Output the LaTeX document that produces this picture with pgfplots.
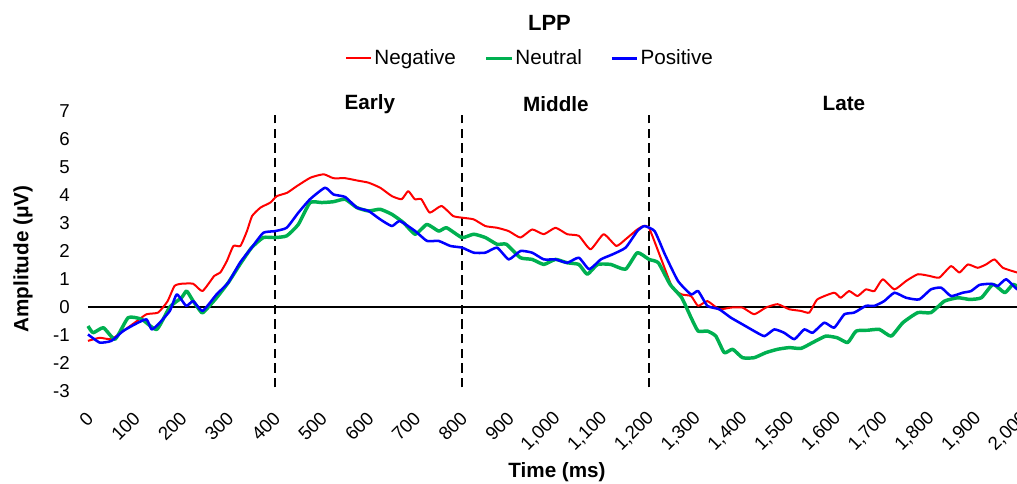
\documentclass[border=0pt]{standalone}
\usepackage{fontspec}
\setmainfont{Liberation Sans}
\usepackage{pgfplots}
\pgfplotsset{compat=1.18}
\usetikzlibrary{calc}
\definecolor{negred}{RGB}{255,0,0}
\definecolor{neugreen}{RGB}{0,176,80}
\definecolor{posblue}{RGB}{0,0,255}
\begin{document}
\begin{tikzpicture}
\begin{axis}[
  scale only axis,
  width=701.25pt, height=210pt,
  xmin=0, xmax=2000, ymin=-3, ymax=7,
  xtick={0,100,...,2000},
  ytick={-3,-2,...,7},
  axis line style={draw=none},
  major tick length=0pt,
  clip=false,
  /pgf/number format/assume math mode=true,
  /pgf/number format/1000 sep={,},
  ticklabel style={font=\fontsize{14}{16}\selectfont},
  yticklabel style={inner sep=0pt, anchor=east, xshift=-13.5pt},
  xticklabel style={yshift=-18pt, xshift=1.5pt, rotate=45, anchor=east, inner sep=0pt},
  xlabel={Time (ms)},
  xlabel style={font=\bfseries\fontsize{15.5}{18}\selectfont, at={(axis description cs:0.5016,-0.289)}, anchor=center},
  ylabel={Amplitude (μV)},
  ylabel style={font=\bfseries\fontsize{15.5}{18}\selectfont, at={(axis description cs:-0.0695,0.472)}, anchor=center},
  legend columns=-1,
  legend style={draw=none, fill=none, at={(axis description cs:0.4727,1.1876)}, anchor=center,
    font=\fontsize{15.5}{18}\selectfont, nodes={inner sep=1.5pt},
    /tikz/every even column/.append style={column sep=20pt}},
  legend image code/.code={\draw[#1] (0pt,0pt) -- (19pt,0pt);},
  line join=round,
]
\addplot[black, line width=1.1pt, forget plot] coordinates {(0,0) (2000,0)};
\addplot[black, line width=2pt, dash pattern=on 7pt off 4pt, forget plot] coordinates {(400,-2.875) (400,6.85)};
\addplot[black, line width=2pt, dash pattern=on 7pt off 4pt, forget plot] coordinates {(800,-2.875) (800,6.85)};
\addplot[black, line width=2pt, dash pattern=on 7pt off 4pt, forget plot] coordinates {(1200,-2.875) (1200,6.85)};

% Negative
\addplot[negred, line width=1.5pt, smooth, tension=0.3] coordinates {
(0,-1.21)(25,-1.10)(50,-1.15)(75,-0.86)(100,-0.56)(125,-0.26)(150,-0.20)(170,0.20)(185,0.75)
(200,0.83)(225,0.83)(245,0.57)(270,1.11)(283,1.23)(297,1.64)(311,2.18)(326,2.18)(340,2.71)
(351,3.25)(369,3.55)(390,3.73)(404,3.96)(426,4.08)(447,4.32)(476,4.62)(504,4.74)(525,4.60)
(550,4.60)(575,4.52)(600,4.44)(625,4.26)(650,3.96)(671,3.85)(685,4.14)(699,3.85)(713,3.85)
(731,3.37)(756,3.61)(781,3.25)(800,3.19)(825,3.13)(850,2.89)(875,2.83)(900,2.71)(925,2.48)
(950,2.77)(975,2.60)(1000,2.83)(1025,2.60)(1050,2.54)(1075,2.06)(1103,2.60)(1130,2.18)
(1150,2.42)(1175,2.77)(1188,2.89)(1200,2.83)(1225,1.76)(1250,0.69)(1270,0.45)(1290,0.39)
(1305,0.04)(1325,0.21)(1350,-0.08)(1375,-0.02)(1400,-0.02)(1425,-0.26)(1450,-0.02)(1475,0.10)
(1500,-0.08)(1525,-0.14)(1543,-0.20)(1560,0.27)(1596,0.51)(1610,0.33)(1628,0.57)(1646,0.39)
(1664,0.63)(1682,0.57)(1700,0.99)(1725,0.63)(1750,0.93)(1775,1.17)(1800,1.11)(1821,1.05)
(1846,1.46)(1864,1.23)(1882,1.52)(1903,1.40)(1921,1.52)(1939,1.70)(1957,1.40)(1988,1.23)(2000,1.20)
};
\addlegendentry{Negative}

% Neutral
\addplot[neugreen, line width=2.6pt, smooth, tension=0.3] coordinates {
(0,-0.68)(11,-0.92)(33,-0.74)(58,-1.15)(86,-0.38)(115,-0.44)(147,-0.80)(175,0.00)(200,0.33)
(211,0.57)(225,0.21)(243,-0.20)(250,-0.14)(275,0.33)(300,0.87)(325,1.52)(350,2.12)(375,2.48)
(400,2.48)(425,2.54)(450,2.95)(475,3.73)(500,3.73)(525,3.76)(550,3.85)(575,3.55)(600,3.43)
(625,3.49)(650,3.31)(675,3.01)(700,2.60)(725,2.95)(750,2.71)(767,2.83)(800,2.48)(825,2.60)
(850,2.48)(875,2.24)(895,2.24)(925,1.76)(950,1.70)(975,1.52)(1000,1.70)(1025,1.58)(1050,1.52)
(1068,1.17)(1090,1.52)(1118,1.52)(1150,1.35)(1175,1.94)(1200,1.70)(1220,1.58)(1245,0.81)
(1270,0.33)(1290,-0.38)(1305,-0.86)(1325,-0.86)(1343,-1.04)(1361,-1.63)(1379,-1.51)(1400,-1.81)
(1425,-1.81)(1450,-1.63)(1475,-1.51)(1500,-1.45)(1525,-1.48)(1550,-1.27)(1578,-1.04)(1603,-1.10)
(1625,-1.27)(1643,-0.86)(1668,-0.83)(1693,-0.80)(1718,-1.04)(1743,-0.56)(1775,-0.20)(1803,-0.20)
(1832,0.21)(1861,0.33)(1886,0.27)(1911,0.33)(1936,0.81)(1961,0.51)(1979,0.81)(2000,0.60)
};
\addlegendentry{Neutral}

% Positive
\addplot[posblue, line width=1.9pt, smooth, tension=0.3] coordinates {
(0,-0.98)(25,-1.27)(50,-1.21)(75,-0.86)(100,-0.62)(125,-0.44)(136,-0.80)(150,-0.62)(175,-0.14)
(190,0.45)(210,0.04)(225,0.21)(245,-0.14)(275,0.45)(300,0.87)(325,1.58)(350,2.12)(375,2.65)
(400,2.71)(425,2.83)(450,3.37)(475,3.85)(507,4.26)(525,4.02)(550,3.93)(575,3.55)(600,3.43)
(625,3.13)(650,2.89)(667,3.07)(700,2.71)(725,2.36)(750,2.36)(775,2.18)(800,2.12)(825,1.94)
(850,1.94)(875,2.12)(900,1.70)(925,2.00)(950,1.94)(975,1.70)(1000,1.70)(1025,1.58)(1050,1.76)
(1072,1.35)(1097,1.70)(1122,1.88)(1150,2.12)(1175,2.71)(1190,2.89)(1212,2.71)(1234,1.88)
(1262,0.93)(1290,0.45)(1305,0.57)(1325,0.04)(1350,-0.08)(1375,-0.38)(1400,-0.62)(1425,-0.86)
(1447,-1.04)(1468,-0.80)(1489,-0.92)(1511,-1.15)(1532,-0.80)(1550,-0.92)(1575,-0.56)(1596,-0.74)
(1618,-0.26)(1639,-0.20)(1664,0.04)(1682,0.04)(1703,0.21)(1725,0.51)(1750,0.33)(1778,0.27)
(1803,0.63)(1825,0.69)(1846,0.39)(1871,0.51)(1889,0.57)(1907,0.79)(1932,0.83)(1946,0.75)
(1964,0.99)(1988,0.63)(2000,0.75)
};
\addlegendentry{Positive}

\node[font=\bfseries\fontsize{16.5}{18}\selectfont] at (axis description cs:0.4936,1.313) {LPP};
\node[font=\bfseries\fontsize{15.5}{18}\selectfont] at (axis cs:603,7.26) {Early};
\node[font=\bfseries\fontsize{15.5}{18}\selectfont] at (axis cs:1001,7.26) {Middle};
\node[font=\bfseries\fontsize{15.5}{18}\selectfont] at (axis cs:1617,7.26) {Late};
\end{axis}
\pgfresetboundingbox
\path[use as bounding box] ($(current axis.south west)+(-66pt,-69.75pt)$) rectangle ($(current axis.north west)+(696.75pt,83.25pt)$);
\end{tikzpicture}
\end{document}
